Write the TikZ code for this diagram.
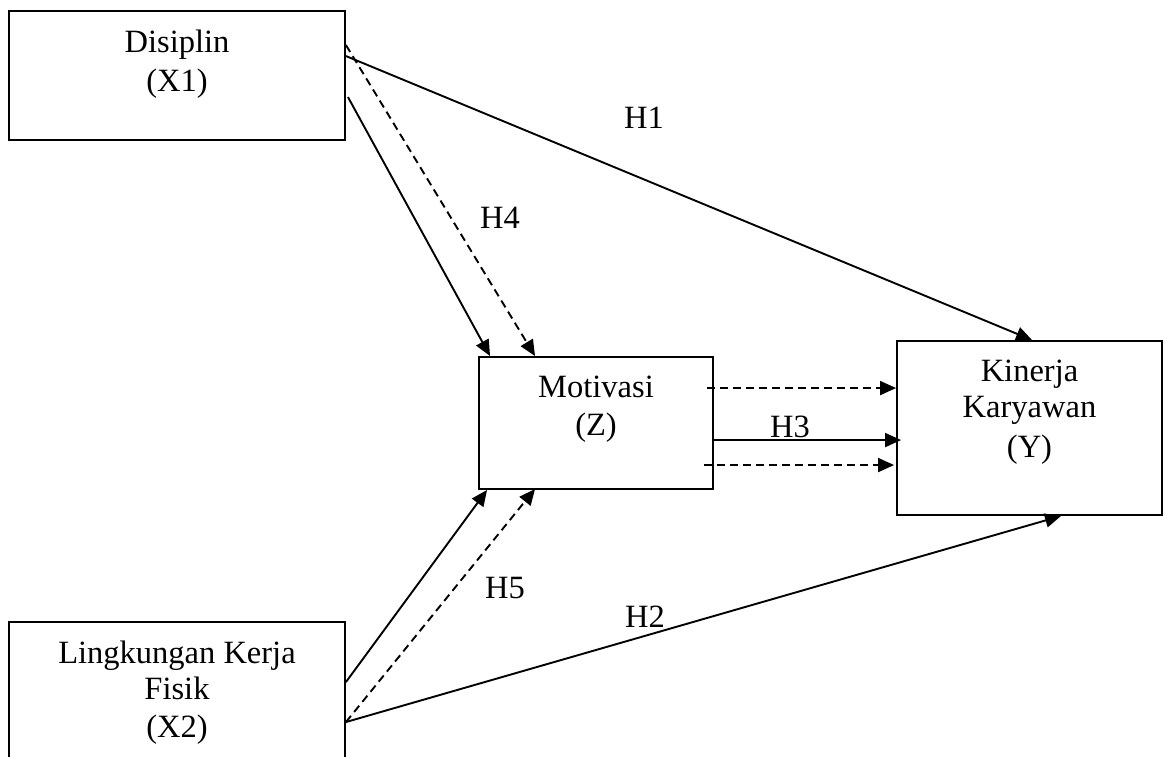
\documentclass[tikz,border=0pt]{standalone}
\usepackage{fontspec}
\setmainfont{Liberation Serif}
\usetikzlibrary{arrows.meta,calc}
\tikzset{
  box/.style={draw, rectangle, line width=1.9pt, inner sep=0pt},
  txt/.style={anchor=base, inner sep=0pt, font=\fontsize{32.5}{38}\selectfont},
  conn/.style={line width=1.9pt, -{Triangle[length=16pt,width=14pt]}},
  dconn/.style={conn, dash pattern=on 8pt off 5pt},
}
\begin{document}
\begin{tikzpicture}[x=1pt,y=-1pt]
\path[use as bounding box] (0,0) rectangle (1165,756);
\clip (0,0) rectangle (1165,756);
% boxes
\node[box, minimum width=336pt, minimum height=129pt] (dis) at (177,75.5) {};
\node[box, minimum width=234pt, minimum height=132pt] (mot) at (596,423) {};
\node[box, minimum width=265pt, minimum height=174pt] (kin) at (1029.5,428) {};
\node[box, minimum width=336pt, minimum height=178pt] (lin) at (177,711) {};
% box texts
\node[txt] (dis1) at (177,52) {Disiplin};
\node[txt] (dis2) at (177,91) {(X1)};
\node[txt] (mot1) at (596,397) {Motivasi};
\node[txt] (mot2) at (596,435) {(Z)};
\node[txt] (kin1) at (1029.5,381) {Kinerja};
\node[txt] (kin2) at (1029.5,417) {Karyawan};
\node[txt] (kin3) at (1029.5,457) {(Y)};
\node[txt] (lin1) at (177,663) {Lingkungan Kerja};
\node[txt] (lin2) at (177,699) {Fisik};
\node[txt] (lin3) at (177,737) {(X2)};
% hypothesis labels
\node[txt] (h1) at (644,128) {H1};
\node[txt] (h2) at (645,627) {H2};
\node[txt] (h3) at (790,437) {H3};
\node[txt] (h4) at (500,228) {H4};
\node[txt] (h5) at (505,598) {H5};
% connectors from Disiplin
\draw[conn] ($(dis.north east)+(0,46)$) -- ($(kin.north west)+(136,0)$);
\draw[dconn] ($(dis.north east)+(0,35)$) -- ($(mot.north west)+(57,0)$);
\draw[conn] ($(dis.north east)+(2,87)$) -- ($(mot.north west)+(12,0)$);
% connectors from Lingkungan
\draw[conn] ($(lin.north east)+(0,61)$) -- ($(mot.south west)+(9,0)$);
\draw[dconn] ($(lin.north east)+(0,101)$) -- ($(mot.south west)+(57,-1)$);
\draw[conn] ($(lin.north east)+(0,101)$) -- ($(kin.south west)+(165,0)$);
% connectors from Motivasi
\draw[dconn] ($(mot.north east)+(-7,32)$) -- ($(kin.north west)+(0,48)$);
\draw[conn] ($(mot.north east)+(0,84)$) -- ($(kin.north west)+(5,100)$);
\draw[dconn] ($(mot.north east)+(-10,109)$) -- ($(kin.north west)+(-2,125)$);
\end{tikzpicture}
\end{document}
